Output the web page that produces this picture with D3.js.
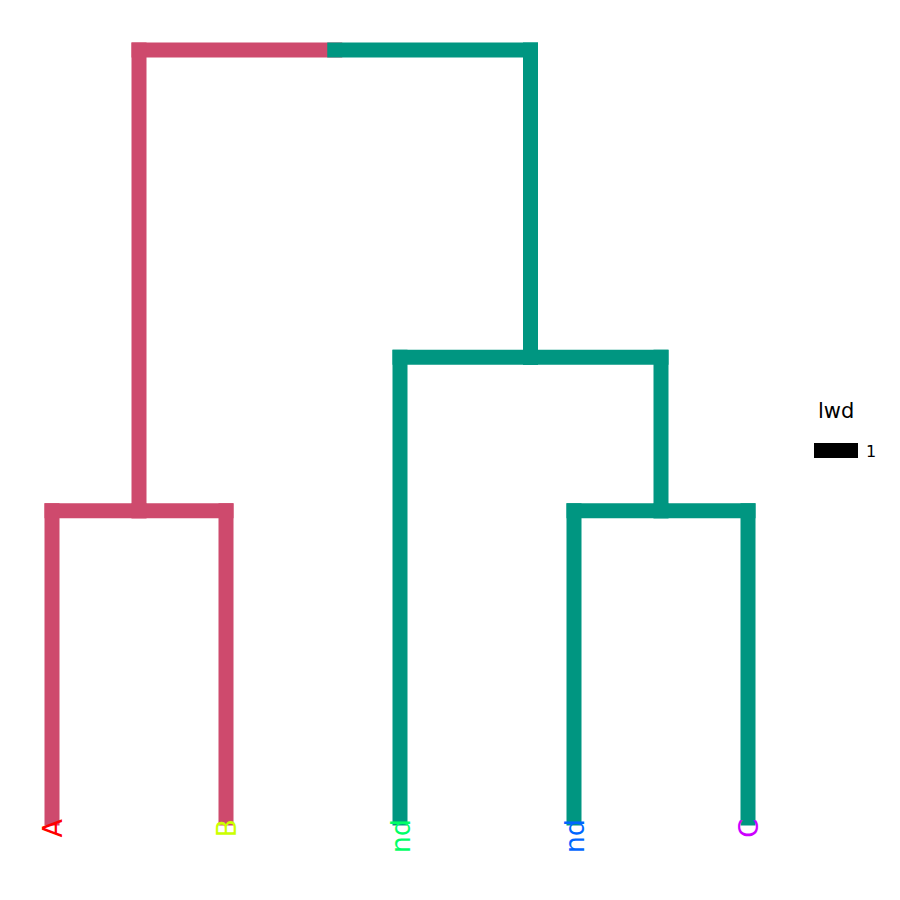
<!DOCTYPE html>
<html><head><meta charset="utf-8">
<script src="https://cdn.jsdelivr.net/npm/d3@7"></script>
<style>body{margin:0;background:#fff}</style></head>
<body><svg id="chart" width="900" height="900"></svg>
<script>
// Leaves (in plotting order)
const leafLabels = ["A", "B", "nd", "nd", "C"];
const leafColors = ["#FF0000", "#CCFF00", "#00FF66", "#0066FF", "#CC00FF"];
// Merges: children refer to leaves as -index(1-based) or earlier merges as +index(1-based)
const mergeLeft   = [-1, -4, -3,  1];
const mergeRight  = [-2, -5,  2,  3];
const mergeHeight = [ 2,  2,  3,  5];
// branch colour per cluster (left cluster / right cluster)
const clusterColors = ["#CE4A6D", "#009681"];
const leafCluster = [0, 0, 1, 1, 1];
const legendTitle = "lwd";
const legendLabels = ["1"];

const svg = d3.select("#chart");
const x = d3.scaleLinear().domain([1, 5]).range([52, 748]);
const y = d3.scaleLinear().domain([0, 5]).range([818, 50]);

// compute node positions
const nodes = [];
function node(ref) {
  if (ref < 0) { const i = -ref - 1; return {x: i + 1, h: 0, cluster: leafCluster[i]}; }
  return nodes[ref - 1];
}
mergeLeft.forEach((l, k) => {
  const a = node(l), b = node(mergeRight[k]);
  nodes.push({x: (a.x + b.x) / 2, h: mergeHeight[k], cluster: a.cluster === b.cluster ? a.cluster : -1, a, b});
});

const segs = [];
nodes.forEach(n => {
  [n.a, n.b].forEach(c => {
    const col = c.cluster >= 0 ? c.cluster : 1;
    segs.push({x1: n.x, y1: n.h, x2: c.x, y2: n.h, col});
    segs.push({x1: c.x, y1: n.h, x2: c.x, y2: c.h, col});
  });
});
segs.sort((p, q) => p.col - q.col);

svg.append("g").selectAll("line").data(segs).join("line")
  .attr("x1", d => x(d.x1)).attr("y1", d => y(d.y1))
  .attr("x2", d => x(d.x2)).attr("y2", d => y(d.y2))
  .attr("stroke", d => clusterColors[d.col])
  .attr("stroke-width", 15)
  .attr("stroke-linecap", "square");

// leaf labels
svg.append("g").selectAll("text").data(leafLabels).join("text")
  .attr("transform", (d, i) => `translate(${x(i + 1)},${y(0) + 1}) rotate(-90)`)
  .attr("text-anchor", "end")
  .attr("dy", "0.36em")
  .attr("font-family", "DejaVu Sans, sans-serif")
  .attr("font-size", 27)
  .attr("fill", (d, i) => leafColors[i])
  .text(d => d);

// legend
const lg = svg.append("g");
lg.append("text").attr("x", 818).attr("y", 418)
  .attr("font-family", "DejaVu Sans, sans-serif").attr("font-size", 21).text(legendTitle);
legendLabels.forEach((t, i) => {
  lg.append("rect").attr("x", 814).attr("y", 443 + i * 30).attr("width", 44).attr("height", 15).attr("fill", "#000");
  lg.append("text").attr("x", 866).attr("y", 457 + i * 30)
    .attr("font-family", "DejaVu Sans, sans-serif").attr("font-size", 16).text(t);
});
</script></body></html>
